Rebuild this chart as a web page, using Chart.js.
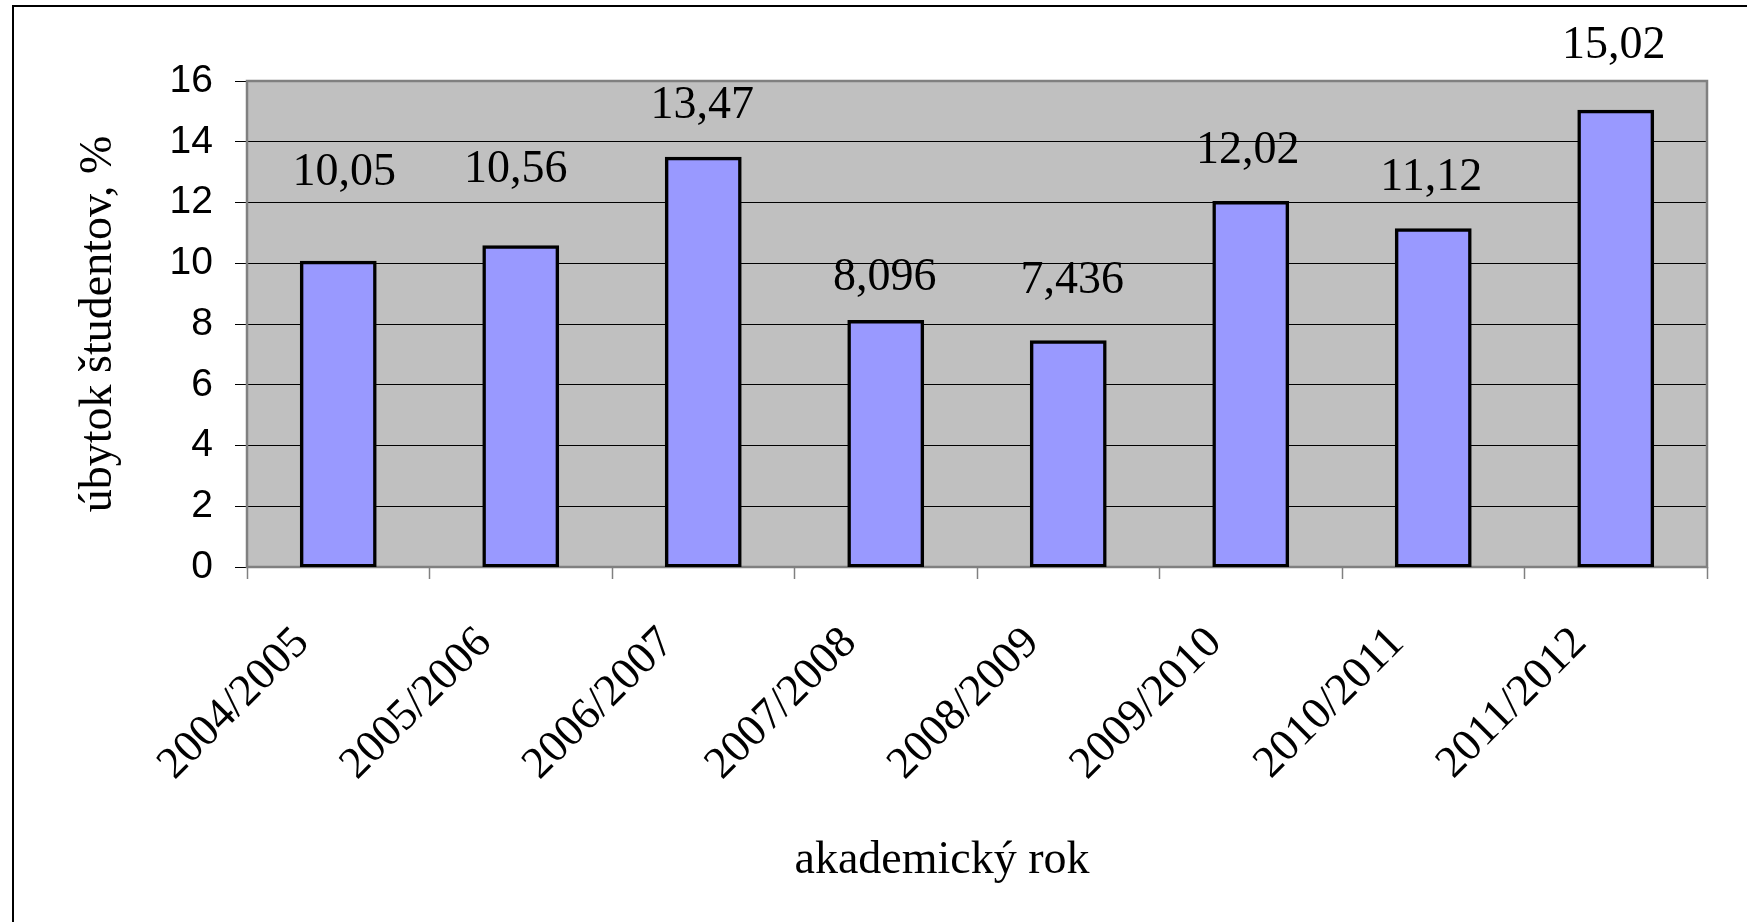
<!DOCTYPE html>
<html>
<head>
<meta charset="utf-8">
<script src="https://cdn.jsdelivr.net/npm/chart.js@4.4.1/dist/chart.umd.min.js"></script>
<style>
html,body{margin:0;padding:0;background:#fff;overflow:hidden}
#wrap{width:1747px;height:922px;position:relative}
canvas{display:block}
</style>
</head>
<body>
<div id="wrap"><canvas id="c" width="1747" height="922"></canvas></div>
<script>
// ---- data ----
const categories = ['2004/2005','2005/2006','2006/2007','2007/2008','2008/2009','2009/2010','2010/2011','2011/2012'];
const values = [10.05, 10.56, 13.47, 8.096, 7.436, 12.02, 11.12, 15.02];
const yTicks = [0, 2, 4, 6, 8, 10, 12, 14, 16];
const xTitle = 'akademický rok';
const yTitle = 'úbytok študentov, %';

const SERIF = '"Liberation Serif", "Times New Roman", serif';
const SANS = '"Liberation Sans", Arial, sans-serif';

const deco = {
  id: 'deco',
  beforeDraw(chart) {
    const {ctx, chartArea: a} = chart;
    ctx.save();
    ctx.fillStyle = '#ffffff';
    ctx.fillRect(0, 0, chart.width, chart.height);
    ctx.strokeStyle = '#000000';
    ctx.lineWidth = 2;
    ctx.strokeRect(13, 6, chart.width + 60, chart.height + 60);
    ctx.fillStyle = '#C0C0C0';
    ctx.fillRect(a.left, a.top, a.right - a.left, a.bottom - a.top);
    ctx.restore();
  },
  beforeDatasetsDraw(chart) {
    const {ctx, chartArea: a} = chart;
    ctx.save();
    ctx.strokeStyle = '#808080';
    ctx.lineWidth = 2.5;
    ctx.strokeRect(a.left, a.top, a.right - a.left, a.bottom - a.top);
    ctx.restore();
  },
  afterDatasetsDraw(chart, args, opts) {
    const {ctx, chartArea: a} = chart;
    const meta = chart.getDatasetMeta(0);
    ctx.save();
    ctx.fillStyle = '#000000';
    ctx.font = '46px ' + SERIF;
    ctx.textAlign = 'center';
    ctx.textBaseline = 'alphabetic';
    meta.data.forEach((bar, i) => {
      const txt = String(values[i]).replace('.', ',');
      ctx.fillText(txt, bar.x + opts.shiftX[i], bar.y - opts.lift[i]);
    });
    ctx.font = '46px ' + SERIF;
    ctx.fillText(xTitle, (a.left + a.right) / 2 + opts.xTitleShift, a.bottom + opts.xTitleDrop);
    ctx.restore();
  }
};

new Chart(document.getElementById('c'), {
  type: 'bar',
  data: {
    labels: categories,
    datasets: [{
      data: values,
      backgroundColor: '#9999FF',
      borderColor: '#000000',
      borderWidth: 3.5,
      borderSkipped: false,
      inflateAmount: 1,
      barPercentage: 0.41,
      categoryPercentage: 1.0
    }]
  },
  plugins: [deco],
  options: {
    responsive: false,
    animation: false,
    events: [],
    layout: { padding: { top: 81, right: 40, left: 0, bottom: 0 } },
    plugins: {
      legend: { display: false },
      tooltip: { enabled: false },
      title: { display: false },
      deco: {
        shiftX: [6, -5, -1, -1, 4, -3, -2, -2],
        lift: [77, 64, 40, 31, 48, 39, 39, 53],
        xTitleShift: -35,
        xTitleDrop: 306
      }
    },
    scales: {
      x: {
        offset: true,
        border: { display: false },
        grid: {
          offset: true,
          drawOnChartArea: false,
          drawTicks: true,
          tickLength: 12,
          tickColor: '#808080',
          tickWidth: 1.5
        },
        ticks: {
          autoSkip: false,
          minRotation: 45,
          maxRotation: 45,
          padding: 38,
          labelOffset: -36,
          color: '#000000',
          font: { family: SERIF, size: 45 }
        },
        afterFit(scale) { scale.height = 355; }
      },
      y: {
        min: 0,
        max: 16,
        border: { display: false },
        grid: {
          color: '#000000',
          lineWidth: 1,
          tickLength: 12,
          tickColor: '#000000'
        },
        ticks: {
          stepSize: 2,
          padding: 22,
          color: '#000000',
          font: { family: SANS, size: 39 }
        },
        afterBuildTicks(scale) { scale.ticks = yTicks.map(v => ({ value: v })); },
        title: {
          display: true,
          text: yTitle,
          color: '#000000',
          font: { family: SERIF, size: 46 },
          padding: { top: 71, bottom: 0 }
        },
        afterFit(scale) { scale.width = 247; }
      }
    }
  }
});
</script>
</body>
</html>
